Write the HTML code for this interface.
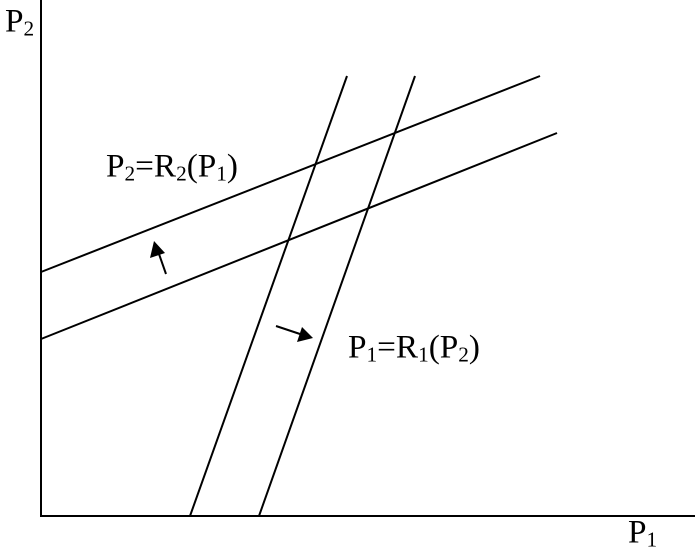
<!DOCTYPE html>
<html><head><style>body{margin:0;background:#fff;position:relative;width:700px;height:549px;overflow:hidden}
svg{position:absolute;left:0;top:0}
.t{position:absolute;font-family:"Liberation Serif",serif;font-size:25px;line-height:25px;color:#000;white-space:nowrap;transform:scale(1.33);transform-origin:0 0}
.t sub{font-size:16px;vertical-align:-3px;line-height:0}</style></head><body>
<svg width="700" height="549" xmlns="http://www.w3.org/2000/svg">
<g stroke="#000" stroke-width="2" fill="none">
<line x1="41" y1="0" x2="41" y2="517"/>
<line x1="40" y1="516" x2="695" y2="516"/>
<line x1="41" y1="272" x2="540" y2="76"/>
<line x1="41" y1="339" x2="557" y2="133"/>
<line x1="190" y1="516" x2="347" y2="76"/>
<line x1="259" y1="516" x2="415" y2="76"/>
<line x1="166" y1="274" x2="159" y2="254"/>
<line x1="276" y1="326" x2="300" y2="334"/>
</g>
<polygon points="154,241 150,258 165,253" />
<polygon points="313,338 297,342 302,327" />
</svg>
<div class="t" style="left:5px;top:5px">P<sub>2</sub></div>
<div class="t" style="left:628px;top:516px">P<sub>1</sub></div>
<div class="t" style="left:106px;top:150px">P<sub>2</sub>=R<sub>2</sub>(P<sub>1</sub>)</div>
<div class="t" style="left:348px;top:331px">P<sub>1</sub>=R<sub>1</sub>(P<sub>2</sub>)</div>
</body></html>
